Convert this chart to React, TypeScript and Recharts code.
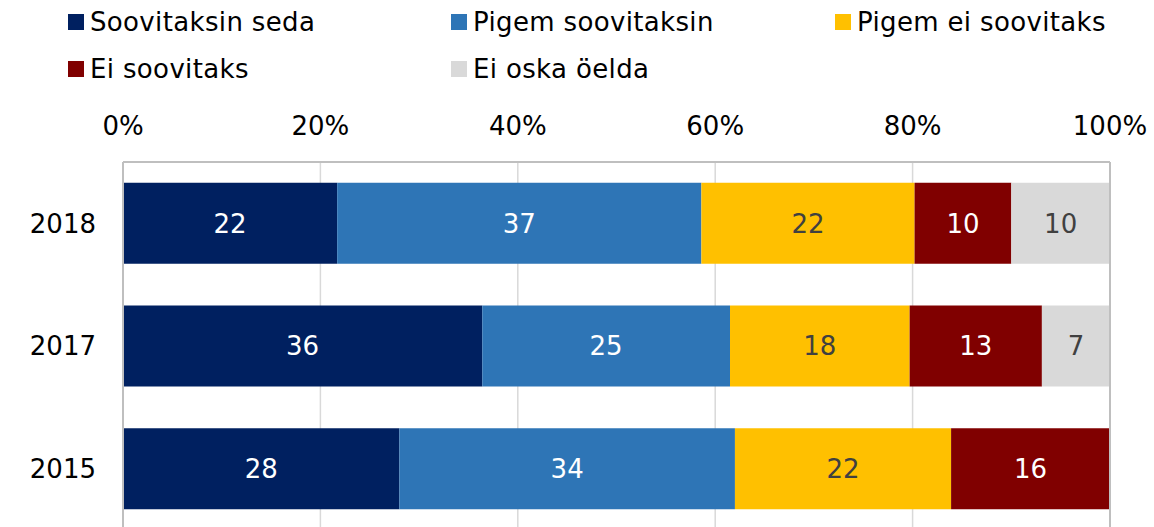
import {
  BarChart,
  Bar,
  XAxis,
  YAxis,
  CartesianGrid,
  LabelList,
  ReferenceLine,
} from "recharts";

const years = ["2018", "2017", "2015"];

const seriesNames = [
  "Soovitaksin seda",
  "Pigem soovitaksin",
  "Pigem ei soovitaks",
  "Ei soovitaks",
  "Ei oska öelda",
];

const seriesColors = ["#002060", "#2E75B6", "#FFC000", "#800000", "#D9D9D9"];
const labelColors = ["#ffffff", "#ffffff", "#404040", "#ffffff", "#404040"];

const soovitaksinSeda = [21.7, 36.4, 28.0];
const pigemSoovitaksin = [36.9, 25.1, 34.0];
const pigemEiSoovitaks = [21.6, 18.2, 21.9];
const eiSoovitaks = [9.8, 13.4, 16.1];
const eiOskaOelda = [10.0, 6.9, 0];

const seriesValues = [
  soovitaksinSeda,
  pigemSoovitaksin,
  pigemEiSoovitaks,
  eiSoovitaks,
  eiOskaOelda,
];

const xTicks = [0, 20, 40, 60, 80, 100];

const data = years.map((year, i) => {
  const row: Record<string, string | number> = { year };
  seriesValues.forEach((vals, s) => {
    row["s" + s] = vals[i];
  });
  return row;
});

const FONT = "'DejaVu Sans', Verdana, sans-serif";

// legend grid: 3 columns, 2 rows
const legendCols = [68, 451, 835];
const legendRows = [22, 69];

function Legend() {
  return (
    <div style={{ position: "absolute", left: 0, top: 0, width: 1154, height: 100 }}>
      {seriesNames.map((name, i) => {
        const x = legendCols[i % 3];
        const y = legendRows[Math.floor(i / 3)];
        return (
          <div key={name}>
            <div
              style={{
                position: "absolute",
                left: x,
                top: y - 8,
                width: 16,
                height: 16,
                background: seriesColors[i],
              }}
            />
            <div
              style={{
                position: "absolute",
                left: x + 22,
                top: y - 16,
                height: 32,
                lineHeight: "32px",
                fontSize: 26,
                letterSpacing: "0.35px",
                fontFamily: FONT,
                color: "#000",
                whiteSpace: "nowrap",
              }}
            >
              {name}
            </div>
          </div>
        );
      })}
    </div>
  );
}

export default function App() {
  return (
    <div
      style={{
        position: "absolute",
        left: 0,
        top: 0,
        width: 1154,
        height: 527,
        overflow: "hidden",
        background: "#fff",
      }}
    >
      <Legend />
      <div style={{ position: "absolute", left: 0, top: 0 }}>
        <BarChart
          width={1154}
          height={540}
          data={data}
          layout="vertical"
          barCategoryGap="17%"
          margin={{ top: 122, right: 44, bottom: 10, left: 0 }}
        >
          <CartesianGrid
            horizontal={false}
            stroke="#D9D9D9"
            strokeWidth={1.5}
          />
          <XAxis
            type="number"
            orientation="top"
            domain={[0, 100]}
            ticks={xTicks}
            allowDataOverflow
            height={40}
            tickFormatter={(v: number) => `${v}%`}
            tickLine={false}
            tickSize={6}
            tickMargin={21}
            axisLine={{ stroke: "#BFBFBF", strokeWidth: 2 }}
            tick={{ fill: "#000", fontSize: 26, fontFamily: FONT }}
          />
          <YAxis
            type="category"
            dataKey="year"
            width={123}
            tickLine={false}
            tickSize={6}
            tickMargin={21}
            axisLine={{ stroke: "#BFBFBF", strokeWidth: 2 }}
            tick={{ fill: "#000", fontSize: 26, fontFamily: FONT }}
          />
          <ReferenceLine x={100} stroke="#BFBFBF" strokeWidth={2} />
          {seriesNames.map((name, s) => (
            <Bar
              key={name}
              dataKey={"s" + s}
              name={name}
              stackId="a"
              fill={seriesColors[s]}
              isAnimationActive={false}
            >
              <LabelList
                dataKey={"s" + s}
                position="center"
                fill={labelColors[s]}
                fontSize={26}
                fontFamily={FONT}
                formatter={(v: any) => (Number(v) > 0 ? Math.round(Number(v)) : "")}
              />
            </Bar>
          ))}
        </BarChart>
      </div>
    </div>
  );
}
